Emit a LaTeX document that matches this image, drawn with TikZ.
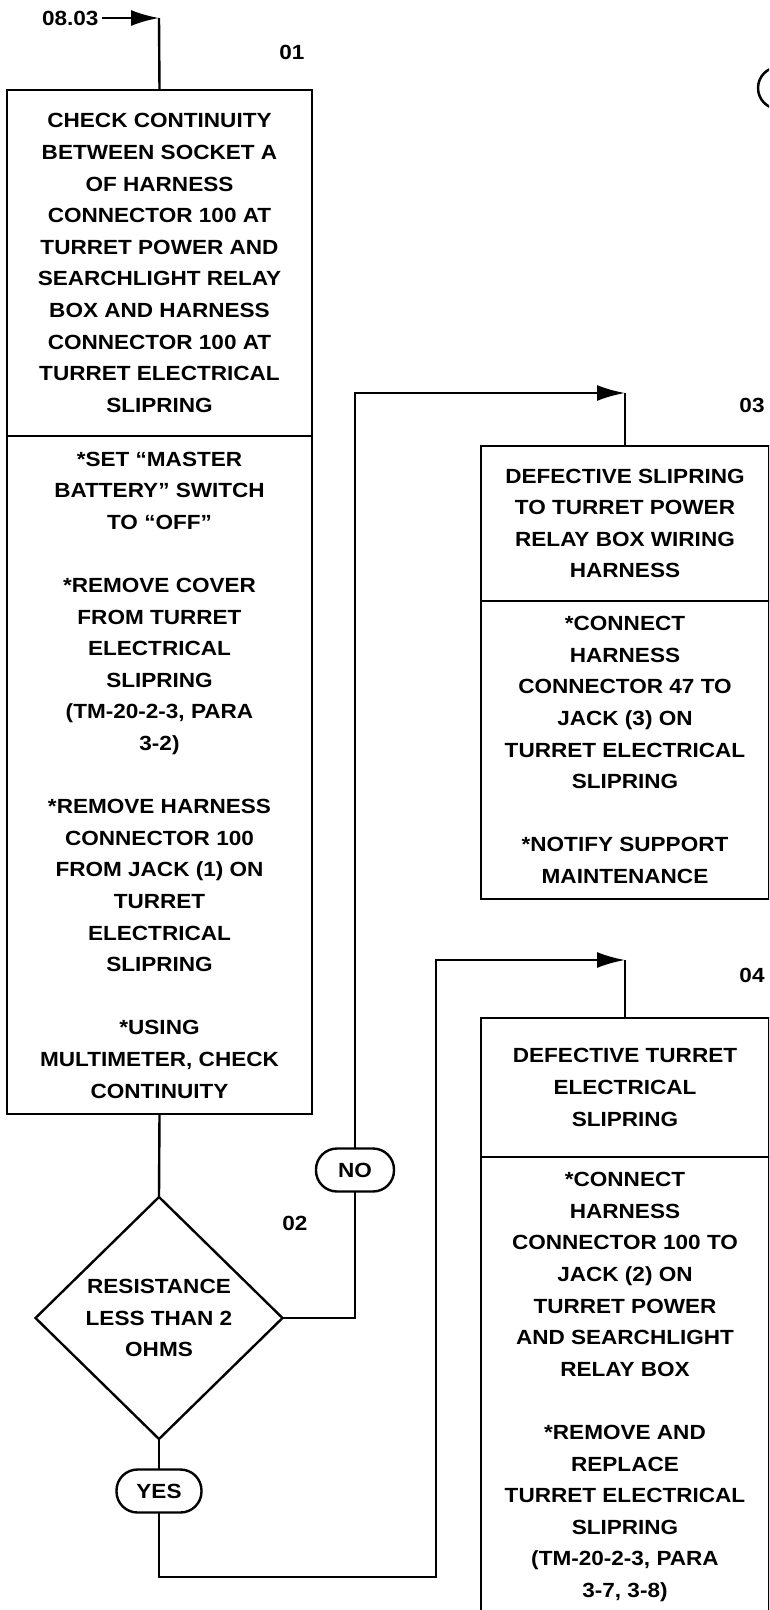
\documentclass[tikz,border=0pt]{standalone}
\usepackage{fontspec}
\setmainfont{Liberation Sans}[FakeStretch=1.1]
\usetikzlibrary{arrows.meta,positioning,shapes.geometric}

\tikzset{
  flowtext/.style={font=\bfseries\fontsize{20.5}{31.6}\selectfont, align=center},
  boxpart/.style={flowtext, draw, line width=2.4pt, inner sep=0pt, outer sep=0pt},
  leftpart/.style={boxpart, minimum width=305pt},
  rightpart/.style={boxpart, minimum width=288pt},
  decision/.style={flowtext, draw, line width=2.4pt, diamond, aspect=1, inner sep=0pt,
    outer sep=0pt, minimum width=247pt, minimum height=242pt},
  answer/.style={flowtext, draw, line width=2.4pt, rounded corners=21pt, inner sep=0pt,
    outer sep=0pt, minimum height=43pt},
  steplabel/.style={flowtext},
  conn/.style={line width=2.4pt},
  flowarrow/.style={conn, -{Latex[length=28pt,width=16pt]}}
}

\begin{document}
\begin{tikzpicture}[x=1pt, y=-1pt]
  \useasboundingbox (0,0) rectangle (769,1610);
  \clip (0,0) rectangle (769,1610);

  % step 01
  \node[leftpart, minimum height=346pt, anchor=north] (chktop) at (159.5,90)
    {CHECK CONTINUITY\\BETWEEN SOCKET A\\OF HARNESS\\CONNECTOR 100 AT\\TURRET POWER AND\\
     SEARCHLIGHT RELAY\\BOX AND HARNESS\\CONNECTOR 100 AT\\TURRET ELECTRICAL\\SLIPRING};
  \node[leftpart, minimum height=678pt, below=0pt of chktop] (chkbot)
    {*SET “MASTER\\BATTERY” SWITCH\\TO “OFF”\\[31.6pt]
     *REMOVE COVER\\FROM TURRET\\ELECTRICAL\\SLIPRING\\(TM-20-2-3, PARA\\3-2)\\[31.6pt]
     *REMOVE HARNESS\\CONNECTOR 100\\FROM JACK (1) ON\\TURRET\\ELECTRICAL\\SLIPRING\\[31.6pt]
     *USING\\MULTIMETER, CHECK\\CONTINUITY};
  \node[steplabel] (lbl01) at (292,52) {01};

  % step 02
  \node[decision] (dec) at (159,1318) {RESISTANCE\\LESS THAN 2\\OHMS};
  \node[steplabel] (lbl02) at (295,1223) {02};
  \node[answer, minimum width=78pt] (no) at (355,1170) {NO};
  \node[answer, minimum width=85pt] (yes) at (159,1491) {YES};

  % step 03
  \node[rightpart, minimum height=155pt, anchor=north] (def03top) at (625,446)
    {DEFECTIVE SLIPRING\\TO TURRET POWER\\RELAY BOX WIRING\\HARNESS};
  \node[rightpart, minimum height=298pt, below=0pt of def03top] (def03bot)
    {*CONNECT\\HARNESS\\CONNECTOR 47 TO\\JACK (3) ON\\TURRET ELECTRICAL\\SLIPRING\\[31.6pt]
     *NOTIFY SUPPORT\\MAINTENANCE};
  \node[steplabel] (lbl03) at (752,405) {03};

  % step 04
  \node[rightpart, minimum height=139pt, anchor=north] (def04top) at (625,1018)
    {DEFECTIVE TURRET\\ELECTRICAL\\SLIPRING};
  \node[rightpart, minimum height=460pt, below=0pt of def04top] (def04bot)
    {*CONNECT\\HARNESS\\CONNECTOR 100 TO\\JACK (2) ON\\TURRET POWER\\AND SEARCHLIGHT\\RELAY BOX\\[31.6pt]
     *REMOVE AND\\REPLACE\\TURRET ELECTRICAL\\SLIPRING\\(TM-20-2-3, PARA\\3-7, 3-8)};
  \node[steplabel] (lbl04) at (752,975) {04};

  % sheet mark, cut by the page edge
  \node[draw, circle, line width=2.5pt, minimum size=42pt] (sheetmark) at (779,88) {};

  % entry
  \node[flowtext, anchor=east] (ref0803) at (102,18) {08.03};
  \coordinate (entry) at (159,18);
  \coordinate (in03) at (625,393);
  \coordinate (turn04) at (436,1577);
  \coordinate (in04) at (625,960);

  % connectors
  \draw[flowarrow] (ref0803) -- (entry);
  \draw[conn] (entry) -- (chktop.north);
  \draw[conn] (chkbot.south) -- (dec.north);
  \draw[conn] (dec.east) -| (no.south);
  \draw[flowarrow] (no.north) |- (in03);
  \draw[conn] (in03) -- (def03top.north);
  \draw[conn] (dec.south) -- (yes.north);
  \draw[flowarrow] (yes.south) |- (turn04) |- (in04);
  \draw[conn] (in04) -- (def04top.north);
\end{tikzpicture}
\end{document}
